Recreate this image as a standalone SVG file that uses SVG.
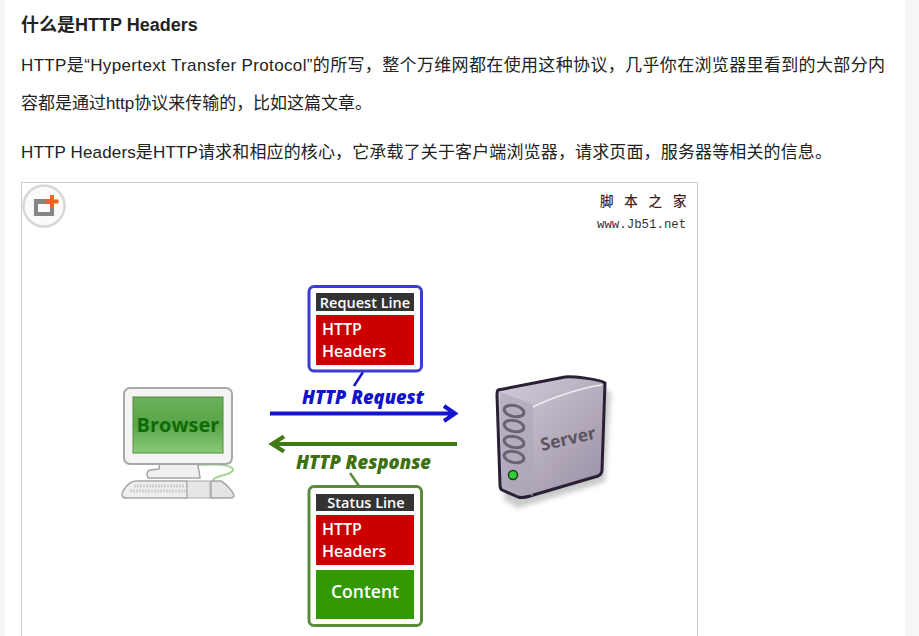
<svg xmlns="http://www.w3.org/2000/svg" width="919" height="636" viewBox="0 0 919 636">
<defs>
<style>
.p{font-family:"Liberation Sans","Noto Sans CJK SC",sans-serif;font-size:17px;fill:#222}
.d{font-family:"Open Sans","Noto Sans",sans-serif;fill:#fff;font-weight:600}
.box{fill:#fff;stroke-width:3}
.lbl{font-family:"Open Sans","Noto Sans",sans-serif;font-weight:800;font-style:italic;font-size:18.5px}
</style>
<linearGradient id="scr" x1="0" y1="0" x2="0" y2="1"><stop offset="0" stop-color="#6bb15a"/><stop offset=".5" stop-color="#58a548"/><stop offset="1" stop-color="#8ccb78"/></linearGradient>
<linearGradient id="srv" x1="0" y1="0" x2="1" y2="1"><stop offset="0" stop-color="#d3ccd9"/><stop offset="1" stop-color="#9a8fa4"/></linearGradient>
<filter id="soft" x="-10%" y="-10%" width="125%" height="125%"><feGaussianBlur stdDeviation="2.500"/></filter>
</defs>
<rect width="919" height="636" fill="#fff"/>
<rect width="5" height="636" fill="#f6f6f6"/>
<rect x="905" width="14" height="636" fill="#f6f6f6"/>
<text class="p" x="21" y="31" style="font-weight:700;font-size:18px">什么是HTTP Headers</text>
<text class="p" x="21" y="71" textLength="864">HTTP是“Hypertext Transfer Protocol”的所写，整个万维网都在使用这种协议，几乎你在浏览器里看到的大部分内</text>
<text class="p" x="21" y="109" textLength="351">容都是通过http协议来传输的，比如这篇文章。</text>
<text class="p" x="21" y="158" textLength="811">HTTP Headers是HTTP请求和相应的核心，它承载了关于客户端浏览器，请求页面，服务器等相关的信息。</text>
<rect x="21.500" y="182.500" width="676" height="470" fill="#fff" stroke="#ccc"/>
<g id="logo">
<circle cx="44" cy="206" r="20.500" fill="#fafafa" stroke="#d8d8d8" stroke-width="2.500"/>
<path d="M34 199H54V216H34ZM38 204V212H50V204Z" fill="#858585" fill-rule="evenodd"/>
<path d="M50 195h4v4.500h4.500v4h-4.500v4.500h-4v-4.500h-4.500v-4h4.500Z" fill="#f0621e"/>
</g>
<g id="watermark" fill="#4a1c1c">
<text x="600" y="206" font-family="'Noto Sans CJK SC',sans-serif" font-size="13.500" font-weight="500" letter-spacing="10.800">脚本之家</text>
<text x="597" y="228" font-family="'Liberation Mono',monospace" font-size="12.400" fill="#333">www.Jb51.net</text>
</g>
<g id="browser">
<path d="M160 462h37l2 9 1 7h-52c-2-4-1-7 2-8l9-1Z" fill="#f0f0f0" stroke="#a5a5a5" stroke-width="1.500"/>
<path d="M198 465c16-1 31-1 35 4 1 6-17 6-20 11-1 3 2 4 4 5" fill="none" stroke="#a5d695" stroke-width="2"/>
<rect x="124" y="388" width="108" height="76" rx="6" fill="#f4f4f4" stroke="#a8a8a8" stroke-width="2"/>
<rect x="133" y="397" width="90" height="56" fill="url(#scr)" stroke="#4c8c3c"/>
<text x="178" y="432" text-anchor="middle" font-family="'Open Sans',sans-serif" font-weight="700" font-size="20" fill="#0f6b0a">Browser</text>
<path d="M136 481h51v17h-61c-4 0-5-4-3-7 3-5 8-10 13-10Z" fill="#eee" stroke="#a5a5a5" stroke-width="1.500"/>
<path d="M187 481h23v17h-23Z" fill="#e6e6e6" stroke="#aaa"/>
<path d="M211 481h10c5 3 11 9 13 14 0 2-1 3-3 3h-20Z" fill="#e4e4e4" stroke="#a5a5a5" stroke-width="1.500"/>
<path d="M130 491h55M134 486h51" stroke="#cfcfcf" stroke-width="3" stroke-dasharray="2 1"/>
</g>
<g id="server">
<path d="M507 396l87-12 17 8-6 90-87 26-14-8Z" fill="#888" opacity=".45" filter="url(#soft)"/>
<path d="M498 390l67-13c6-1 35 2 40 6l-3 87c0 3-2 5-4 6l-68 20c-6 2-9 2-12 1l-16-7c-2-1-2-3-2-5l-3-90c0-3 0-4 1-5Z" fill="url(#srv)" stroke="#2a2035" stroke-width="3" stroke-linejoin="round"/>
<path d="M500 392l29 11c3 2 4 3 4 6v87l-31-11Z" fill="#aea5b8" opacity=".6"/>
<path d="M533 407c15-8 50-20 69-22" fill="none" stroke="#eee" stroke-width="1.500"/>
<g fill="none" stroke="#6a6372" stroke-width="3">
<ellipse cx="514" cy="411" rx="10" ry="5.500" transform="rotate(12 514 411)"/>
<ellipse cx="514" cy="426" rx="10" ry="5.500" transform="rotate(12 514 426)"/>
<ellipse cx="514" cy="442" rx="10" ry="5.500" transform="rotate(12 514 442)"/>
<ellipse cx="514" cy="457" rx="10" ry="5.500" transform="rotate(12 514 457)"/>
</g>
<circle cx="513" cy="475" r="4.500" fill="#2fd03a" stroke="#1a3a1a" stroke-width="1.500"/>
<text x="0" y="0" transform="translate(542 451) rotate(-13)" font-family="'Open Sans',sans-serif" font-weight="700" font-size="17.500" fill="#5b5560">Server</text>
</g>
<g id="connectors" fill="none" stroke-width="4">
<path d="M270 413.500H454M444 406l11 7.500-11 7.500" stroke="#1414d2"/>
<path d="M457 444H273M284 436.500L272 444l12 7.500" stroke="#3f7a12"/>
<path d="M363 372l-9 14" stroke="#1414d2" stroke-width="2.500"/>
<path d="M350 473l9 13" stroke="#5d8b3c" stroke-width="2.500"/>
</g>
<text class="lbl" x="302" y="404" fill="#1212c8" textLength="122" lengthAdjust="spacingAndGlyphs">HTTP Request</text>
<text class="lbl" x="296" y="469" fill="#3d7010" textLength="135" lengthAdjust="spacingAndGlyphs">HTTP Response</text>
<g id="request">
<rect class="box" x="309" y="286.500" width="112.500" height="84.500" rx="5" stroke="#3c3cd2"/>
<rect x="316" y="293" width="98" height="18" fill="#333"/>
<text class="d" x="365" y="307.500" text-anchor="middle" font-size="14.500">Request Line</text>
<rect x="316" y="315" width="98" height="50" fill="#cc0000"/>
<text class="d" x="322" y="334.500" font-size="16">HTTP</text>
<text class="d" x="322" y="356.500" font-size="16">Headers</text>
</g>
<g id="response">
<rect class="box" x="309" y="486.500" width="112.500" height="139" rx="5" stroke="#5d8b3c"/>
<rect x="316" y="494" width="98" height="17" fill="#333"/>
<text class="d" x="366" y="507.500" text-anchor="middle" font-size="14.500">Status Line</text>
<rect x="316" y="515" width="98" height="50" fill="#cc0000"/>
<text class="d" x="322" y="534.500" font-size="16">HTTP</text>
<text class="d" x="322" y="556.500" font-size="16">Headers</text>
<rect x="316" y="570" width="98" height="49" fill="#339900"/>
<text class="d" x="365" y="598" text-anchor="middle" font-size="17.500">Content</text>
</g>
</svg>
